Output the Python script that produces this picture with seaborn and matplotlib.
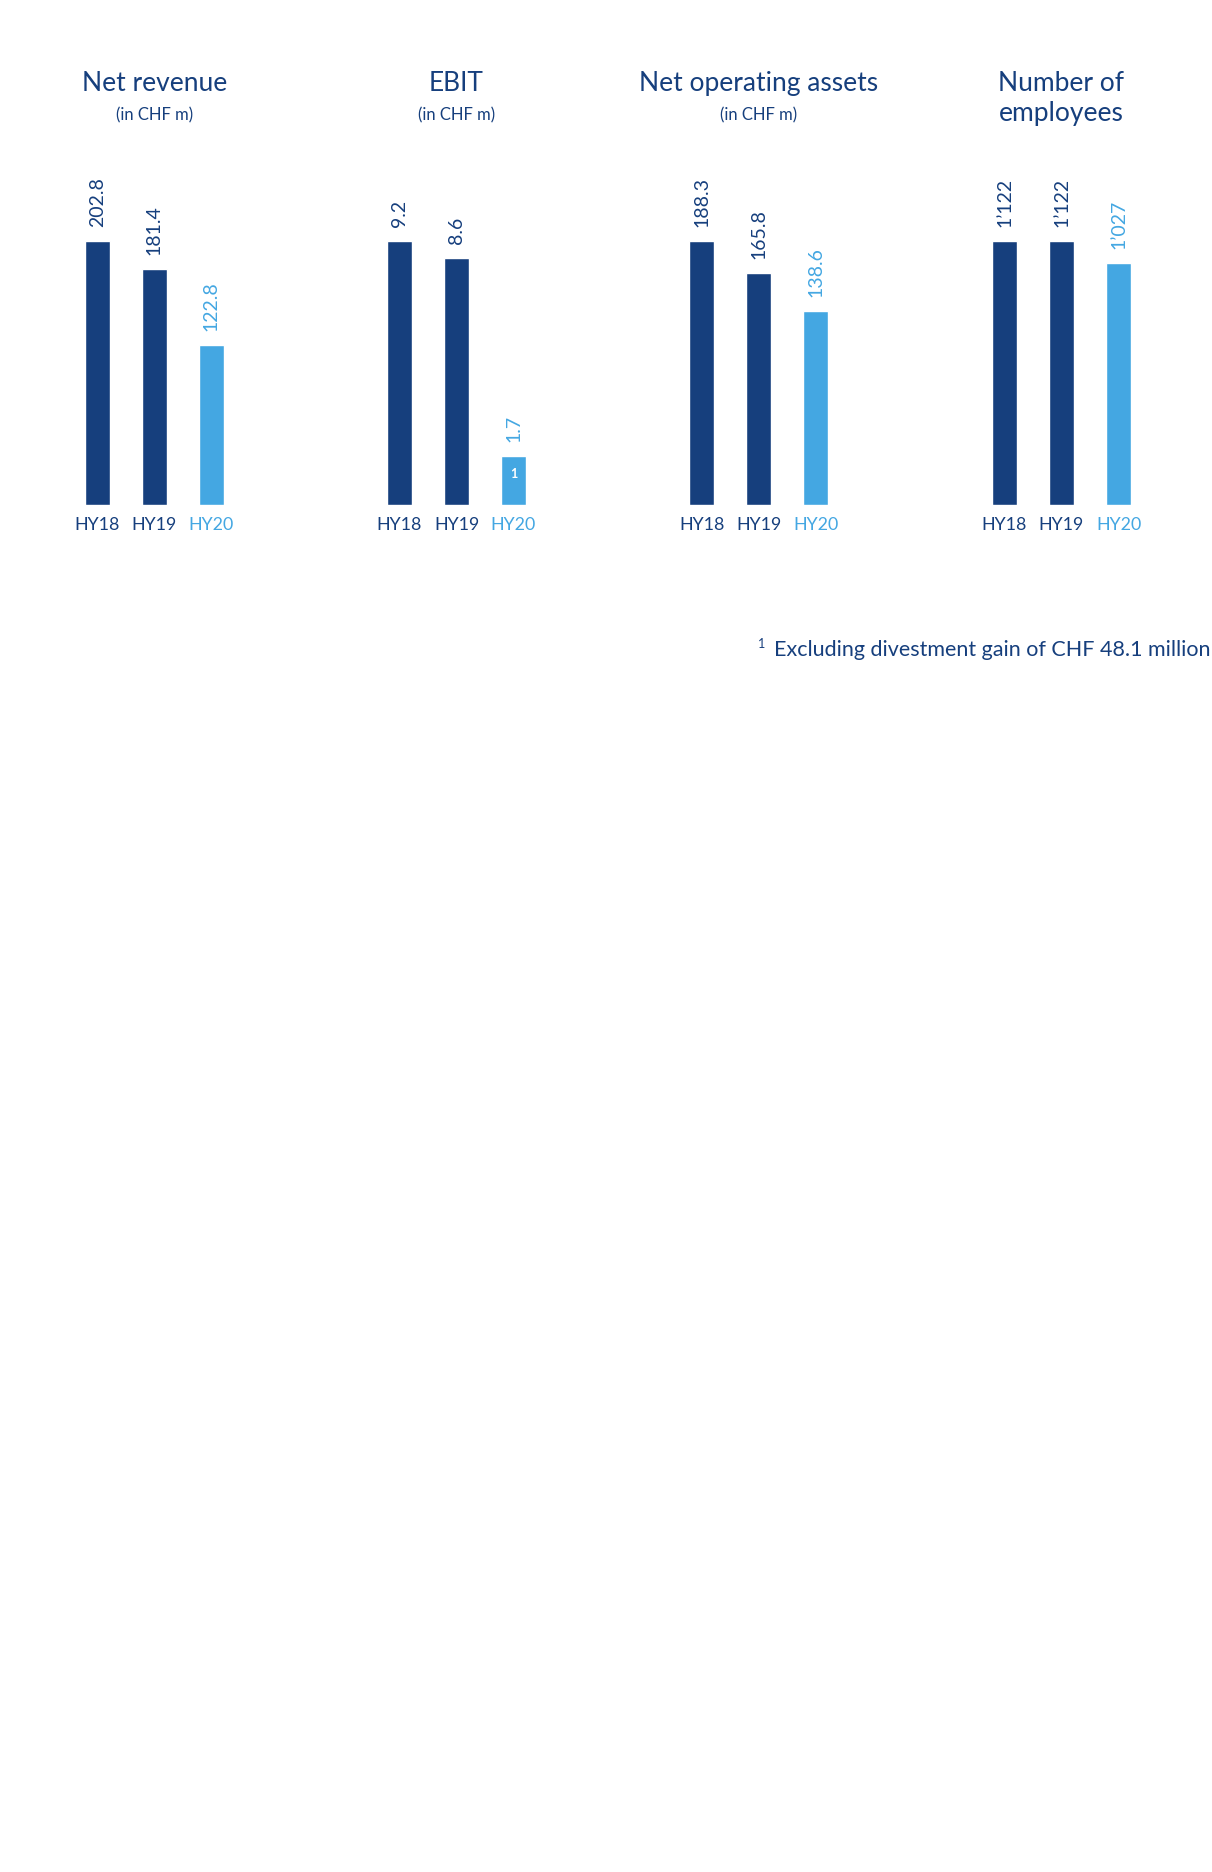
import matplotlib
matplotlib.use("Agg")
import matplotlib.pyplot as plt
import seaborn as sns
import pandas as pd

sns.set_style("white")
plt.rcParams['font.family'] = ['Lato', 'DejaVu Sans']

DARK = "#163F7D"
LIGHT = "#44A7E2"

periods = ["HY18", "HY19", "HY20"]
titles = ["Net revenue", "EBIT", "Net operating assets", "Number of\nemployees"]
subtitles = ["(in CHF m)", "(in CHF m)", "(in CHF m)", ""]
net_revenue = [202.8, 181.4, 122.8]
ebit = [9.2, 8.6, 1.7]
net_operating_assets = [188.3, 165.8, 138.6]
employees = [1122, 1122, 1027]
value_labels = [
    ["202.8", "181.4", "122.8"],
    ["9.2", "8.6", "1.7"],
    ["188.3", "165.8", "138.6"],
    ["1\u2019122", "1\u2019122", "1\u2019027"],
]
series = [net_revenue, ebit, net_operating_assets, employees]
bar_colors = [DARK, DARK, LIGHT]

W, H = 1212, 1872
fig = plt.figure(figsize=(W / 100, H / 100), dpi=100)
fig.patch.set_facecolor("white")

centers = [154.2, 456.5, 758.8, 1061.5]
spacing = 57.0
half_w = 151.0
base_y = 505.0
bar_h = 264.0

for k, (vals, labs) in enumerate(zip(series, value_labels)):
    cx = centers[k]
    ax = fig.add_axes([(cx - half_w) / W, (H - base_y) / H, 2 * half_w / W, bar_h / H])
    df = pd.DataFrame({"period": periods, "value": vals})
    sns.barplot(data=df, x="period", y="value", hue="period", palette=bar_colors,
                width=25 / spacing, legend=False, ax=ax, saturation=1)
    ax.set_xlim(1 - half_w / spacing, 1 + half_w / spacing)
    ax.set_ylim(0, max(vals))
    for s in ax.spines.values():
        s.set_visible(False)
    ax.set_facecolor("none")
    ax.set_yticks([])
    ax.set_xlabel("")
    ax.set_ylabel("")
    ax.tick_params(axis="x", length=0, pad=9, labelsize=12.8)
    for t, c in zip(ax.get_xticklabels(), bar_colors):
        t.set_color(c)
    for i, (v, lab) in enumerate(zip(vals, labs)):
        ax.annotate(lab, (i, v), xytext=(0, 10), textcoords="offset points",
                    rotation=90, ha="center", va="bottom", fontsize=14,
                    color=bar_colors[i], annotation_clip=False)
    # title
    if subtitles[k]:
        fig.text(cx / W, 1 - 83.5 / H, titles[k], ha="center", va="center",
                 fontsize=19, color=DARK)
        fig.text(cx / W, 1 - 115 / H, subtitles[k], ha="center", va="center",
                 fontsize=12, color=DARK)
    else:
        fig.text(cx / W, 1 - 98.5 / H, titles[k], ha="center", va="center",
                 fontsize=19, color=DARK, linespacing=1.25)
    if k == 1:
        ax.annotate("1", (2, vals[2]), xytext=(0, -13), textcoords="offset points",
                    ha="center", va="center", fontsize=9, color="white",
                    fontweight="bold")

fig.text(758 / W, 1 - 648 / H, "1", ha="left", va="baseline", fontsize=9, color=DARK)
fig.text(1210 / W, 1 - 656.5 / H, "Excluding divestment gain of CHF 48.1 million",
         ha="right", va="baseline", fontsize=15.5, color=DARK)

fig.savefig("out.png", dpi=100, facecolor="white")
